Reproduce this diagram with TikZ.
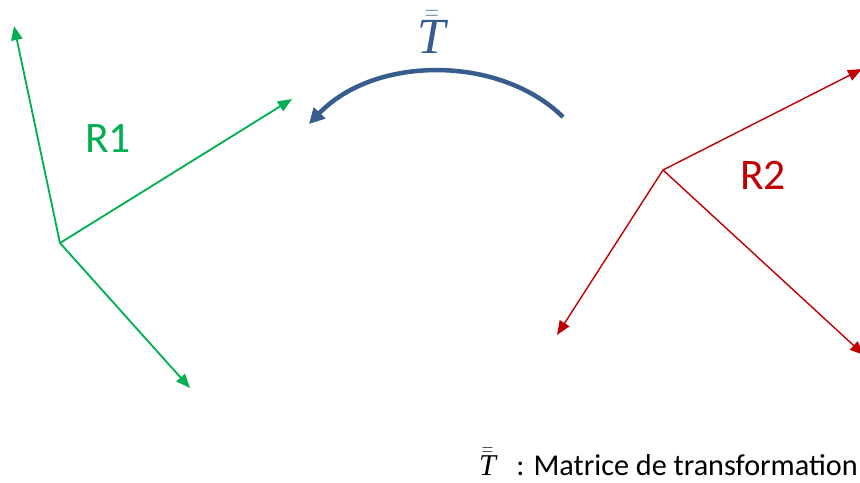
\documentclass[tikz,border=0pt]{standalone}
\usepackage{fontspec}
\setmainfont{Carlito}
\newfontfamily\serifT{Liberation Serif}
\usetikzlibrary{arrows.meta}
\definecolor{vert}{RGB}{0,176,80}
\definecolor{rouge}{RGB}{192,0,0}
\definecolor{bleu}{RGB}{55,92,142}
\newcommand{\matT}{$\bar{\bar{\mbox{\serifT\itshape T}}}$}
\begin{document}
\begin{tikzpicture}[x=0.025cm,y=-0.025cm,>={Triangle[length=10pt,width=8pt]},
 axeR1/.style={->,draw=vert,line width=1.3pt},
 axeR2/.style={->,draw=rouge,line width=1pt},
 lbl/.style={inner sep=0pt,font=\fontsize{31}{36}\selectfont}]
\useasboundingbox (0,0) rectangle (860,482);
% repere R1
\coordinate (o1) at (60,243);
\coordinate (x1) at (14,26);
\coordinate (y1) at (292,99);
\coordinate (z1) at (190,388);
\draw[axeR1] (o1)--(x1);
\draw[axeR1] (o1)--(y1);
\draw[axeR1] (o1)--(z1);
\node[lbl,text=vert] (r1) at (108,138) {R1};
% repere R2
\coordinate (o2) at (663,170);
\coordinate (x2) at (862,69);
\coordinate (y2) at (557,335);
\coordinate (z2) at (864,355);
\draw[axeR2] (o2)--(x2);
\draw[axeR2] (o2)--(y2);
\draw[axeR2] (o2)--(z2);
\node[lbl,text=rouge] (r2) at (763,175) {R2};
% transformation
\coordinate (dep) at (563,117);
\coordinate (arr) at (309,124);
\draw[bleu,line width=3.2pt,-{Triangle[length=11pt,width=11pt]}]
 (dep) .. controls (500,55) and (375,55) .. (arr);
\node[text=bleu,inner sep=0pt,font=\fontsize{36}{40}\selectfont] (t) at (432,32) {\matT};
\node[anchor=east,inner sep=0pt,font=\fontsize{21.5}{25}\selectfont] (leg) at (858,462)
 {\matT\ \ \ : Matrice de transformation};
\end{tikzpicture}
\end{document}
